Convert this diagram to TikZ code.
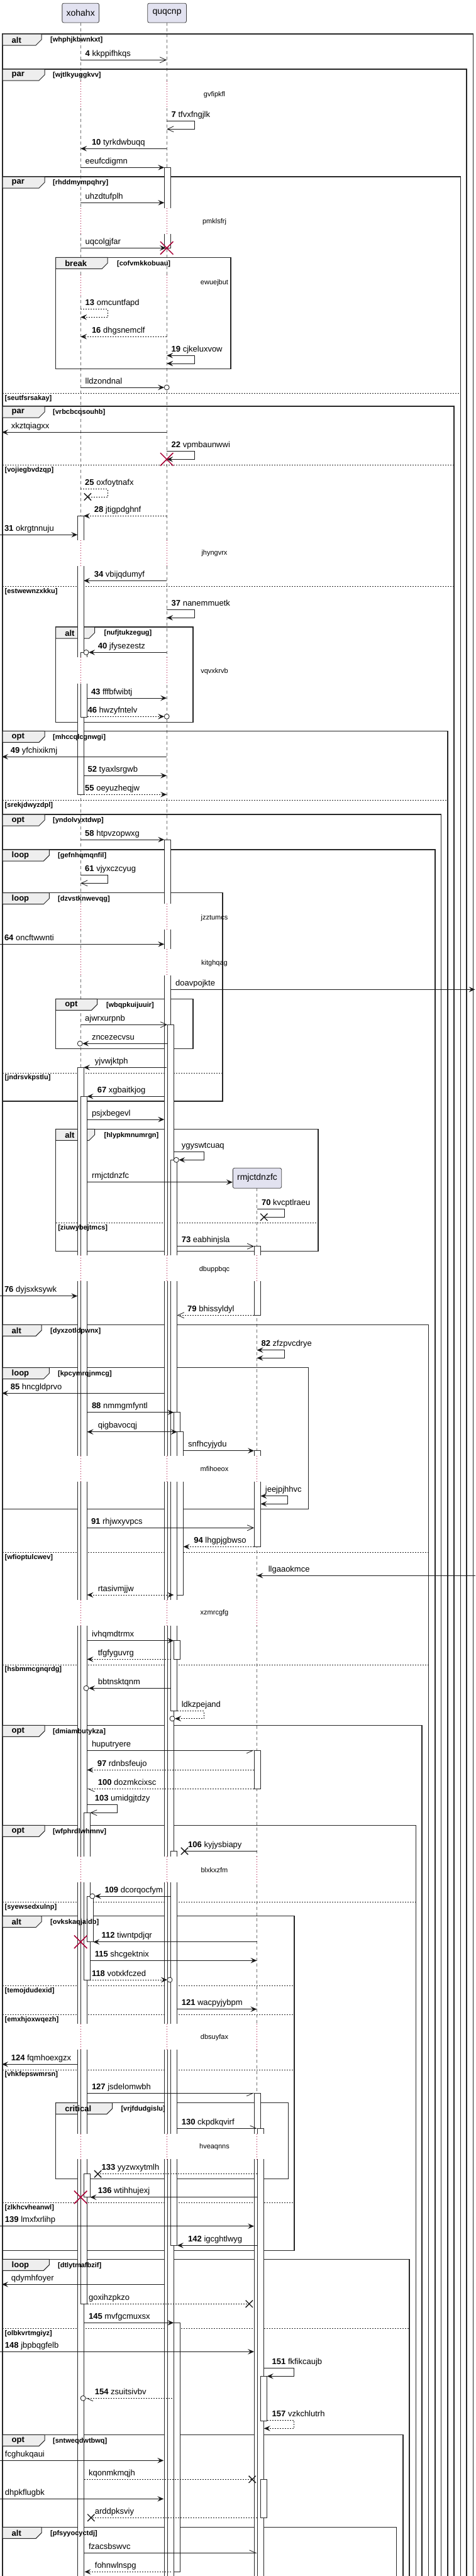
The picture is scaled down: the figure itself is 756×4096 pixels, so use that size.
\documentclass[tikz,border=0pt]{standalone}
\usepackage{fontspec}
\setmainfont{Liberation Sans}
\usetikzlibrary{arrows.meta,shapes.misc}
\pgfdeclarelayer{fg}
\pgfsetlayers{main,fg}
\definecolor{partfill}{HTML}{E2E2F0}
\definecolor{tabfill}{HTML}{EEEEEE}
\definecolor{crim}{HTML}{A80036}
\tikzset{
  lbl/.style={font=\fontsize{13}{15}\selectfont, anchor=base west, inner sep=0pt},
  kw/.style={font=\fontsize{13}{15}\selectfont\bfseries, anchor=west, inner sep=0pt},
  cnd/.style={font=\fontsize{11}{13}\selectfont\bfseries, anchor=west, inner sep=0pt},
  dlt/.style={font=\fontsize{11}{13}\selectfont, inner sep=0pt},
  part/.style={draw=black!75, fill=partfill, rounded corners=2.5pt, line width=0.8pt, font=\fontsize{14}{16}\selectfont, inner sep=0pt},
  frm/.style={line width=1.5pt, draw=black!85},
  tabst/.style={fill=tabfill, draw=black!85, line width=1pt},
  elseln/.style={line width=0.7pt, dash pattern=on 2pt off 2pt, draw=black!85},
  lifel/.style={draw=black!55, line width=0.6pt, dash pattern=on 5pt off 4pt},
  dotl/.style={draw=crim, line width=0.7pt, dash pattern=on 1pt off 3pt},
  actbox/.style={fill=white, draw=black!85, line width=0.8pt},
  msgline/.style={line width=0.8pt, draw=black!90},
  dsh/.style={dash pattern=on 2pt off 2pt},
  fa/.style={-{Stealth[length=10pt,width=8.5pt,inset=4pt]}},
  fb/.style={{Stealth[length=10pt,width=8.5pt,inset=4pt]}-{Stealth[length=10pt,width=8.5pt,inset=4pt]}},
  oa/.style={-{Straight Barb[length=10pt,width=9pt]}},
  hl/.style={-{Straight Barb[left,length=10pt,width=9pt]}},
  hr/.style={-{Straight Barb[right,length=10pt,width=9pt]}},
  endc/.style={circle, draw=black!90, fill=white, inner sep=0pt, minimum size=8pt, line width=0.8pt},
  lostx/.style={cross out, draw=black!90, line width=1.3pt, minimum size=10pt, inner sep=0pt},
  killx/.style={cross out, draw=crim, line width=1.5pt, minimum size=19pt, inner sep=0pt},
}
% name y x1 x2 style labelx label
\newcommand\sqMsg[7]{%
  \coordinate (#1s) at (#3,#2);
  \coordinate (#1e) at (#4,#2);
  \draw[msgline,#5] (#1s) -- (#1e);
  \node[lbl] (#1l) at (#6,#2-6) {#7};}
% name ytop ybot xs xr xe style labelx label
\newcommand\sqSelf[9]{%
  \coordinate (#1s) at (#4,#2);
  \coordinate (#1a) at (#5,#2);
  \coordinate (#1b) at (#5,#3);
  \coordinate (#1e) at (#6,#3);
  \draw[msgline,#7] (#1s) -- (#1a) -- (#1b) -- (#1e);
  \node[lbl] (#1l) at (#8,#2-6) {#9};}
\newcommand\sqAct[4]{\filldraw[actbox] (#1,#2) rectangle (#3,#4);}
% name top right tabR kw cond condx
\newcommand\sqOpen[7]{%
  \draw[frm] (4,4110) -- (4,#2) -- (#3,#2) -- (#3,4110);
  \draw[tabst] (4,#2) -- (#4,#2) -- (#4,#2+9) -- (#4-9,#2+18) -- (4,#2+18) -- cycle;
  \begin{pgfonlayer}{fg}
  \node[kw] (#1k) at (18.5,#2+9.5) {#5};
  \node[cnd] (#1c) at (#7,#2+10) {#6};
  \end{pgfonlayer}}
% name left top right bottom tabR kw cond condx
\newcommand\sqClosed[9]{%
  \draw[frm] (#2,#3) rectangle (#4,#5);
  \draw[tabst] (#2,#3) -- (#6,#3) -- (#6,#3+9) -- (#6-9,#3+18) -- (#2,#3+18) -- cycle;
  \begin{pgfonlayer}{fg}
  \node[kw] (#1k) at (#2+14.5,#3+9.5) {#7};
  \node[cnd] (#1c) at (#9,#3+10) {#8};
  \end{pgfonlayer}}
% name left right y text
\newcommand\sqElse[5]{%
  \draw[elseln] (#2,#4) -- (#3,#4);
  \begin{pgfonlayer}{fg}
  \node[cnd] (#1) at (#2+3.5,#4+8) {#5};
  \end{pgfonlayer}}
% name y1 y2 ytext text xmax
\newcommand\sqDelay[6]{%
  \fill[white] (116,#2) rectangle (#6,#3);
  \draw[dotl] (128.2,#2) -- (128.2,#3);
  \draw[dotl] (265.2,#2) -- (265.2,#3);
  \ifdim #6pt>400pt \draw[dotl] (408.5,#2) -- (408.5,#3);\fi
  \node[dlt] (#1) at (341,#4) {#5};}
\newcommand\nb[1]{\textbf{#1}}
\begin{document}
\begin{tikzpicture}[x=1pt,y=-1pt]
\useasboundingbox (0,0) rectangle (756,4096);
\fill[white] (0,0) rectangle (756,4096);

% participants and lifelines
\node[part, minimum width=58.7pt, minimum height=30.7pt] (xo) at (128.2,20.6) {xohahx};
\node[part, minimum width=61.7pt, minimum height=30.7pt] (qu) at (265.6,20.6) {quqcnp};
\coordinate (xoEnd) at (128.2,4110);
\coordinate (quEnd) at (265.2,4110);
\coordinate (rmEnd) at (408.5,4110);
\draw[lifel] (xo.south) -- (xoEnd);
\draw[lifel] (qu.south -| quEnd) -- (quEnd);
\draw[lifel] (408.5,1889.3) -- (rmEnd);

% open frames
\sqOpen{F1}{54}{752.4}{66}{alt}{[whphjkbwnkxt]}{80}
\sqOpen{F2}{110}{742.2}{71}{par}{[wjtlkyuggkvv]}{84}
\sqOpen{F3}{281}{732.4}{71}{par}{[rhddmympqhry]}{84}
\sqElse{E3a}{4}{732.4}{625.3}{[seutfsrsakay]}
\sqOpen{F4}{646}{722.1}{71}{par}{[vrbcbcqsouhb]}{84}
\sqElse{E4a}{4}{722.1}{739.3}{[vojiegbvdzqp]}
\sqElse{E4b}{4}{722.1}{932.3}{[estwewnzxkku]}
\sqOpen{F5}{1162.3}{711.8}{71}{opt}{[mhccqlcgnwgi]}{84}
\sqElse{E5a}{4}{711.8}{1272.3}{[srekjdwyzdpl]}
\sqOpen{F6}{1295}{701.6}{71}{opt}{[yndolvyxtdwp]}{84}
\sqOpen{F7}{1351}{691.8}{78.3}{loop}{[gefnhqmqnfil]}{92}
\sqOpen{F8}{2106.3}{681.5}{66}{alt}{[dyxzotldpwnx]}{80}
\sqElse{E8a}{4}{681.5}{2468.3}{[wfioptulcwev]}
\sqElse{E8b}{4}{681.5}{2647}{[hsbmmcgnqrdg]}
\sqOpen{F9}{2743.3}{671.2}{71}{opt}{[dmiambutykza]}{84}
\sqOpen{F10}{2902.3}{661.4}{71}{opt}{[wfphrdlwhmnv]}{84}
\sqElse{E10a}{4}{661.4}{3024.3}{[syewsedxulnp]}
\sqOpen{F11}{3592.3}{651.2}{78.3}{loop}{[dtlytmafbzif]}{92}
\sqElse{E11a}{4}{651.2}{3702.3}{[olbkvrtmgiyz]}
\sqOpen{F12}{3871.3}{641}{71}{opt}{[sntweqdwtbwq]}{84}
\sqOpen{F13}{4018.3}{630.6}{66}{alt}{[pfsyyocyctdj]}{80}

% closed frames
\sqClosed{C1}{88.6}{409.3}{367}{586.7}{171.2}{break}{[cofvmkkobuau]}{186}
\sqClosed{C2}{88.6}{997}{306.8}{1148.3}{150.7}{alt}{[nufjtukzegug]}{165.4}
\sqClosed{C3}{4}{1419.7}{354.2}{1751}{78.3}{loop}{[dzvstknwevqg]}{92}
\sqElse{EC3}{4}{354.2}{1706}{[jndrsvkpstlu]}
\sqClosed{C4}{88.6}{1588.3}{307.2}{1667.3}{154.6}{opt}{[wbqpkuijuuir]}{168.8}
\sqClosed{C5}{88.6}{1795.3}{505.9}{1989.3}{150.7}{alt}{[hlypkmnumrgn]}{165.4}
\sqElse{EC5}{88.6}{505.9}{1944.3}{[ziuwybejtmcs]}
\sqClosed{C6}{4}{2174.7}{490.7}{2399.3}{78.3}{loop}{[kpcymrqjnmcg]}{92}
\sqClosed{C7}{4}{3046.7}{468.2}{3578.3}{66}{alt}{[ovkskaqjaldb]}{80}
\sqElse{EC7a}{4}{468.2}{3157.3}{[temojdudexid]}
\sqElse{EC7b}{4}{468.2}{3203.7}{[emxhjoxwqezh]}
\sqElse{EC7c}{4}{468.2}{3291}{[vhkfepswmrsn]}
\sqElse{EC7d}{4}{468.2}{3502.3}{[zlkhcvheanwl]}
\sqClosed{C8}{88.6}{3343.7}{458.4}{3464.3}{178.6}{critical}{[vrjfdudgislu]}{192.3}

% created participant
\node[part, minimum width=77.3pt, minimum height=32pt] (rm) at (409,1873.3) {rmjctdnzfc};

% activations xohahx
\sqAct{123.3}{820.3}{133}{1263.3}
\sqAct{128.2}{1037.3}{138.5}{1140}
\sqAct{123.3}{1697.3}{133}{4110}
\sqAct{128.2}{1743.3}{138.5}{3663.3}
\sqAct{133.6}{2882.3}{143.3}{3148}
\sqAct{138.5}{3015}{148.2}{3087.7}
\sqAct{133.6}{3456.7}{143.3}{3493.7}
% activations quqcnp
\sqAct{261.3}{266.3}{271.5}{394.3}
\sqAct{261.3}{1335}{271.5}{4110}
\sqAct{266.1}{1629.3}{276.4}{4110}
\sqAct{271.5}{1844.3}{281.8}{2720.7}
\sqAct{276.4}{2245.7}{286.7}{2276.7}
\sqAct{281.8}{2276.7}{291.6}{2536}
\sqAct{276.4}{2608.7}{286.7}{2638.3}
\sqAct{271.5}{2943.3}{281.8}{3570.3}
\sqAct{276.4}{3693.3}{286.7}{4089.3}
% activations rmjctdnzfc
\sqAct{404.1}{1981.7}{414.4}{2091.3}
\sqAct{404.1}{2306.7}{414.4}{2459.3}
\sqAct{404.1}{2783.3}{414.4}{2844.3}
\sqAct{404.1}{3328.3}{414.4}{4110}
\sqAct{409.5}{3384.3}{419.8}{4110}
\sqAct{414.4}{3778.3}{424.7}{3849}
\sqAct{414.4}{3942.3}{424.7}{4003.3}

% delays
\sqDelay{D1}{128.5}{172}{150.7}{gvfipkfl}{300}
\sqDelay{D2}{330.7}{371.7}{352.3}{pmklsfrj}{300}
\sqDelay{D3}{437}{470.5}{449.3}{ewuejbut}{300}
\sqDelay{D4}{859}{900}{880}{jhyngvrx}{300}
\sqDelay{D5}{1045.3}{1086.7}{1067.3}{vqvxkrvb}{300}
\sqDelay{D6}{1437.3}{1478.3}{1459.3}{jzztumcs}{300}
\sqDelay{D7}{1509.3}{1550.7}{1531.3}{kitghqag}{300}
\sqDelay{D8}{1996}{2037.3}{2018.3}{dbuppbqc}{430}
\sqDelay{D9}{2315}{2356}{2336}{mfihoeox}{430}
\sqDelay{D10}{2544}{2585}{2565}{xzmrcgfg}{430}
\sqDelay{D11}{2951.7}{2993.3}{2973.3}{blxkxzfm}{430}
\sqDelay{D12}{3218.3}{3259.3}{3239.3}{dbsuyfax}{430}
\sqDelay{D13}{3392.7}{3433.3}{3414}{hveaqnns}{430}

% messages
\sqMsg{m4}{95.3}{128.2}{265.2}{oa}{135.5}{\nb{4} kkppifhkqs}
\sqSelf{m7}{192.3}{205.3}{265.2}{309}{265.2}{oa}{272.5}{\nb{7} tfvxfngjlk}
\sqMsg{m10}{236.3}{265.2}{128.2}{fa}{145.8}{\nb{10} tyrkdwbuqq}
\sqMsg{m11}{266.3}{128.2}{261.3}{fa}{135.5}{eeufcdigmn}
\sqMsg{m12}{322.3}{128.2}{261.3}{fa}{135.5}{uhzdtufplh}
\sqMsg{m13a}{394.3}{128.2}{264}{fa}{135.5}{uqcolgjfar}
\node[killx] (k1) at (265.2,394.3) {};
\sqSelf{m13}{491.3}{504.3}{128.2}{171}{128.2}{fa,dsh}{135.5}{\nb{13} omcuntfapd}
\sqMsg{m16}{535.3}{265.2}{128.2}{fa,dsh}{145.8}{\nb{16} dhgsnemclf}
\sqSelf{m19}{565.3}{578}{265.2}{309}{265.2}{fb}{272.5}{\nb{19} cjkeluxvow}
\sqMsg{m20}{616}{128.2}{261.2}{fa}{135.5}{lldzondnal}
\node[endc] (c20) at (265.2,616) {};
\sqMsg{m21}{687.3}{265.2}{3}{fa}{17.6}{xkztqiagxx}
\sqSelf{m22}{717.3}{730.3}{265.2}{309}{265.2}{fa}{272.5}{\nb{22} vpmbaunwwi}
\node[killx] (k2) at (265.2,730.3) {};
\sqSelf{m25}{777.3}{790}{128.2}{171}{139.4}{dsh}{135}{\nb{25} oxfoytnafx}
\node[lostx] (x25) at (139.4,790) {};
\sqMsg{m28}{820.3}{265.2}{133}{fa,dsh}{149.7}{\nb{28} jtigpdghnf}
\sqMsg{m31}{850.3}{0}{123.3}{fa}{6.8}{\nb{31} okrgtnnuju}
\sqMsg{m34}{923.3}{265.2}{133}{fa}{149.7}{\nb{34} vbijqdumyf}
\sqSelf{m37}{969.3}{982.3}{265.2}{309}{265.2}{fa}{272.5}{\nb{37} nanemmuetk}
\sqMsg{m40}{1037.3}{265.2}{141}{fa}{155.6}{\nb{40} jfysezestz}
\node[endc] (c40) at (137,1037.3) {};
\sqMsg{m43}{1110}{138.5}{265.2}{fa}{144.8}{\nb{43} fffbfwibtj}
\sqMsg{m46}{1139.3}{138.5}{261.2}{fa,dsh}{139.4}{\nb{46} hwzyfntelv}
\node[endc] (c46) at (265.2,1139.3) {};
\sqMsg{m49}{1203.3}{265.2}{3}{fa}{16.6}{\nb{49} yfchixikmj}
\sqMsg{m52}{1233.3}{133}{265.2}{fa}{139.4}{\nb{52} tyaxlsrgwb}
\sqMsg{m55}{1263.3}{133}{265.2}{fa,dsh}{135}{\nb{55} oeyuzheqjw}
\sqMsg{m58}{1335}{128.2}{261.3}{fa}{135}{\nb{58} htpvzopwxg}
\sqSelf{m61}{1391.7}{1404.3}{128.2}{171}{128.2}{oa}{135}{\nb{61} vjyxczcyug}
\sqMsg{m64}{1501.3}{0}{261.3}{fa}{6.8}{\nb{64} oncftwwnti}
\sqMsg{m65}{1573.3}{271.5}{755.5}{fa}{279}{doavpojkte}
\sqMsg{m66a}{1629.3}{128.2}{266.1}{oa}{135}{ajwrxurpnb}
\sqMsg{m66b}{1659.3}{265.6}{131.2}{fa}{145.8}{zncezecvsu}
\node[endc] (c66) at (127.2,1659.3) {};
\sqMsg{m66c}{1697.3}{265.2}{133}{fa}{150.7}{yjvwjktph}
\sqMsg{m67}{1743.3}{261.3}{138.5}{fa}{154.6}{\nb{67} xgbaitkjog}
\sqMsg{m68}{1780}{138.5}{261.3}{fa}{145.8}{psjxbegevl}
\sqSelf{m69a}{1831.3}{1844.3}{276.4}{323.9}{284.3}{fa}{288.6}{ygyswtcuaq}
\node[endc] (c69) at (280.3,1844.3) {};
\coordinate (m69bs) at (138.5,1879.7);
\draw[msgline,fa] (m69bs) -- (rm.west |- m69bs);
\node[lbl] (m69bl) at (145.8,1873.7) {rmjctdnzfc};
\sqSelf{m70}{1922.3}{1935.3}{408.5}{452}{419.8}{}{415.9}{\nb{70} kvcptlraeu}
\node[lostx] (x70) at (419.8,1935.3) {};
\sqMsg{m73}{1981.7}{281.8}{404.1}{oa}{288.6}{\nb{73} eabhinjsla}
\sqMsg{m76}{2060.7}{0}{123.3}{fa}{6.8}{\nb{76} dyjsxksywk}
\sqMsg{m79}{2091.3}{404.1}{281.8}{oa,dsh}{298}{\nb{79} bhissyldyl}
\sqSelf{m82}{2146.7}{2159.3}{408.5}{452}{408.5}{fb}{415.4}{\nb{82} zfzpvcdrye}
\sqMsg{m85}{2215.3}{261.3}{3}{fa}{16.6}{\nb{85} hncgldprvo}
\sqMsg{m88}{2245.7}{138.5}{276.4}{fa}{145.8}{\nb{88} nmmgmfyntl}
\sqMsg{m89}{2276.7}{138.5}{281.8}{fb}{155.6}{qigbavocqj}
\sqMsg{m90}{2306.7}{291.6}{404.1}{fa}{299}{snfhcyjydu}
\sqSelf{m90b}{2378.7}{2391.3}{414.4}{457}{414.4}{fb}{421.7}{jeejpjhhvc}
\sqMsg{m91}{2429.3}{138.5}{404.1}{oa}{144.8}{\nb{91} rhjwxyvpcs}
\sqMsg{m94}{2459.3}{404.1}{291.6}{fa,dsh}{308.2}{\nb{94} lhgpjgbwso}
\sqMsg{m95a}{2505.3}{756}{408.5}{fa}{426.6}{llgaaokmce}
\sqMsg{m95b}{2536}{138.5}{276.4}{fb,dsh}{155.6}{rtasivmjjw}
\sqMsg{m95c}{2608.7}{138.5}{276.4}{fa}{145.8}{ivhqmdtrmx}
\sqMsg{m95d}{2638.3}{271.5}{138.5}{fa,dsh}{155.6}{tfgfyguvrg}
\sqMsg{m95e}{2684.3}{271.5}{141}{fa}{155.6}{bbtnsktqnm}
\node[endc] (c95e) at (137,2684.3) {};
\sqSelf{m95f}{2720.7}{2732.7}{281.8}{323.9}{278}{fa,dsh}{288.6}{ldkzpejand}
\node[endc] (c95f) at (274,2732.7) {};
\sqMsg{m96}{2783.3}{138.5}{404.1}{hr}{145.8}{huputryere}
\sqMsg{m97}{2814.3}{404.1}{138.5}{fa,dsh}{154.6}{\nb{97} rdnbsfeujo}
\sqMsg{m100}{2844.3}{404.1}{138.5}{hl,dsh}{155.6}{\nb{100} dozmkcixsc}
\sqSelf{m103}{2869.7}{2882.3}{138.5}{186.4}{143.3}{oa}{150.7}{\nb{103} umidgjtdzy}
\sqMsg{m106}{2943.3}{408.5}{293.5}{}{299}{\nb{106} kyjysbiapy}
\node[lostx] (x106) at (293.5,2943.3) {};
\sqMsg{m109}{3015}{271.5}{150.8}{fa}{166.3}{\nb{109} dcorqocfym}
\node[endc] (c109) at (146.8,3015) {};
\sqMsg{m112}{3087.7}{408.5}{148.2}{fa}{161.4}{\nb{112} tiwntpdjqr}
\node[killx] (k112) at (128.2,3087.7) {};
\sqMsg{m115}{3117.3}{143.3}{408.5}{fa}{150.7}{\nb{115} shcgektnix}
\sqMsg{m118}{3148}{143.3}{266}{fa,dsh}{145.8}{\nb{118} votxkfczed}
\node[endc] (c118) at (270,3148) {};
\sqMsg{m121}{3194.7}{281.8}{408.5}{fa}{288.6}{\nb{121} wacpyjybpm}
\sqMsg{m124}{3282.3}{123.3}{3}{fa}{17.6}{\nb{124} fqmhoexgzx}
\sqMsg{m127}{3328.3}{138.5}{404.1}{hr}{145.8}{\nb{127} jsdelomwbh}
\sqMsg{m130}{3384.3}{281.8}{409.5}{hl}{288.6}{\nb{130} ckpdkqvirf}
\sqMsg{m133}{3456.7}{408.5}{155.6}{dsh}{161.4}{\nb{133} yyzwxytmlh}
\node[lostx] (x133) at (155.6,3456.7) {};
\sqMsg{m136}{3493.7}{408.5}{143.3}{fa}{155.6}{\nb{136} wtihhujexj}
\node[killx] (k136) at (128.2,3493.7) {};
\sqMsg{m139}{3539.7}{0}{404.1}{fa}{7.8}{\nb{139} lmxfxrlihp}
\sqMsg{m142}{3570.3}{408.5}{281.8}{fa}{299}{\nb{142} igcghtlwyg}
\sqMsg{m143}{3632.3}{261.3}{3}{fa}{17.6}{qdymhfoyer}
\sqMsg{m144}{3663.3}{138.5}{396.3}{dsh}{140.9}{goxihzpkzo}
\node[lostx] (x144) at (396.3,3663.3) {};
\sqMsg{m145}{3693.3}{133.6}{276.4}{fa}{140.9}{\nb{145} mvfgcmuxsx}
\sqMsg{m148}{3739.3}{0}{404.1}{fa}{7.8}{\nb{148} jbpbqgfelb}
\sqSelf{m151}{3765.3}{3778.3}{419.8}{467.2}{424.7}{fa}{432.5}{\nb{151} fkfikcaujb}
\sqMsg{m154}{3813.3}{274}{136.1}{hl,dsh}{150.7}{\nb{154} zsuitsivbv}
\node[endc] (c154) at (132.1,3813.3) {};
\sqSelf{m157}{3848.3}{3861.3}{424.7}{467.2}{419.8}{fa,dsh}{432.5}{\nb{157} vzkchlutrh}
\sqMsg{m158}{3912.3}{0}{260.3}{fa}{7.8}{fcghukqaui}
\sqMsg{m159}{3942.3}{133.6}{401.2}{dsh}{140.9}{kqonmkmqjh}
\node[lostx] (x159) at (401.2,3942.3) {};
\sqMsg{m160}{3973.3}{0}{260.3}{fa}{7.8}{dhpkflugbk}
\sqMsg{m161}{4003.3}{408.5}{144.8}{dsh}{150.7}{arddpksviy}
\node[lostx] (x161) at (144.8,4003.3) {};
\sqMsg{m162}{4059.3}{133.6}{408.5}{hl}{140.9}{fzacsbswvc}
\sqMsg{m163}{4089.3}{271.5}{134.5}{fa,dsh}{150.7}{fohnwlnspg}
\end{tikzpicture}
\end{document}
